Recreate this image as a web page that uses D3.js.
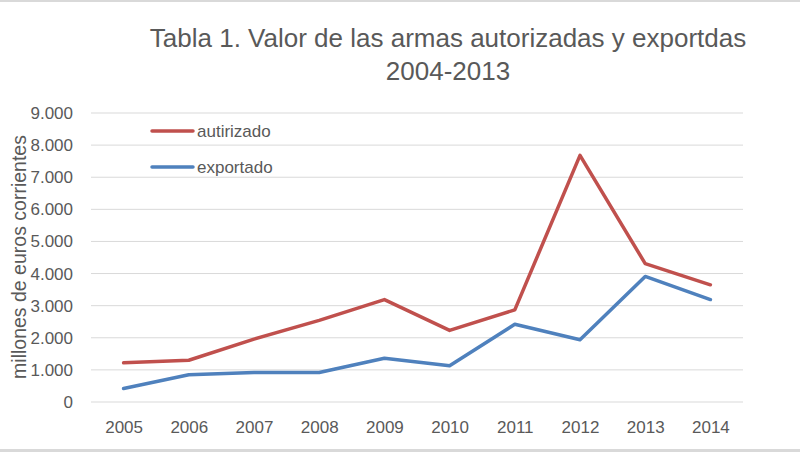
<!DOCTYPE html>
<html><head><meta charset="utf-8">
<script src="https://cdn.jsdelivr.net/npm/d3@7"></script>
<style>body{margin:0;background:#fff}svg{display:block}</style>
</head><body>
<svg id="c" width="800" height="452"></svg>
<script>
const years = ["2005","2006","2007","2008","2009","2010","2011","2012","2013","2014"];
const autorizado = [1220,1300,1960,2540,3190,2230,2870,7680,4310,3650];
const exportado = [420,850,920,920,1360,1130,2420,1940,3910,3190];
const yTicks = [0,1000,2000,3000,4000,5000,6000,7000,8000,9000];
const seriesNames = ["autirizado","exportado"];
const colors = ["#C0504D","#4F81BD"];
const titleLines = ["Tabla 1. Valor de las armas autorizadas y exportdas","2004-2013"];
const yTitle = "millones de euros corrientes";

const svg = d3.select("#c");
const font = "'Liberation Sans', Arial, sans-serif";
const txt = "#595959";
const m = {l:91, r:743, t:113, b:402};

svg.append("rect").attr("x",0).attr("y",0).attr("width",800).attr("height",2).attr("fill","#d9d9d9");
svg.append("rect").attr("x",0).attr("y",449).attr("width",800).attr("height",3).attr("fill","#d9d9d9");

const x = d3.scalePoint().domain(years).range([m.l, m.r]).padding(0.5);
const y = d3.scaleLinear().domain([0,9000]).range([m.b, m.t]);
const fmt = d => d3.format(",")(d).replace(/,/g,".");

// gridlines
svg.append("g").selectAll("line").data(yTicks).join("line")
  .attr("x1",m.l).attr("x2",m.r).attr("y1",d=>y(d)).attr("y2",d=>y(d))
  .attr("stroke","#d9d9d9").attr("stroke-width",1);

// y axis labels
const ya = svg.append("g").attr("transform",`translate(${m.l-18},0)`)
  .call(d3.axisLeft(y).tickValues(yTicks).tickFormat(fmt).tickSize(0).tickPadding(0));
ya.select(".domain").remove();
ya.selectAll("text").attr("font-family",font).attr("font-size",17).attr("fill",txt);

// x axis labels
const xa = svg.append("g").attr("transform",`translate(0,${m.b})`)
  .call(d3.axisBottom(x).tickSize(0).tickPadding(0));
xa.select(".domain").remove();
xa.selectAll("text").attr("font-family",font).attr("font-size",17).attr("fill",txt)
  .attr("y",31).attr("dy",null);

// lines
const line = d3.line().x((d,i)=>x(years[i])).y(d=>y(d));
[autorizado, exportado].forEach((s,i)=>{
  svg.append("path").datum(s).attr("d",line).attr("fill","none")
    .attr("stroke",colors[i]).attr("stroke-width",3.5)
    .attr("stroke-linejoin","round").attr("stroke-linecap","round");
});

// legend
seriesNames.forEach((n,i)=>{
  const ly = 131 + i*36;
  svg.append("line").attr("x1",152).attr("x2",193).attr("y1",ly).attr("y2",ly)
    .attr("stroke",colors[i]).attr("stroke-width",3.5).attr("stroke-linecap","round");
  svg.append("text").attr("x",197).attr("y",ly).attr("dy","0.35em")
    .attr("font-family",font).attr("font-size",17).attr("fill",txt).text(n);
});

// title
titleLines.forEach((t,i)=>{
  svg.append("text").attr("x",448).attr("y",47+i*33).attr("text-anchor","middle")
    .attr("font-family",font).attr("font-size",26).attr("fill",txt).text(t);
});

// y title
svg.append("text").attr("transform","translate(26,257) rotate(-90)")
  .attr("text-anchor","middle").attr("font-family",font).attr("font-size",19.5).attr("fill",txt)
  .text(yTitle);
</script>
</body></html>
